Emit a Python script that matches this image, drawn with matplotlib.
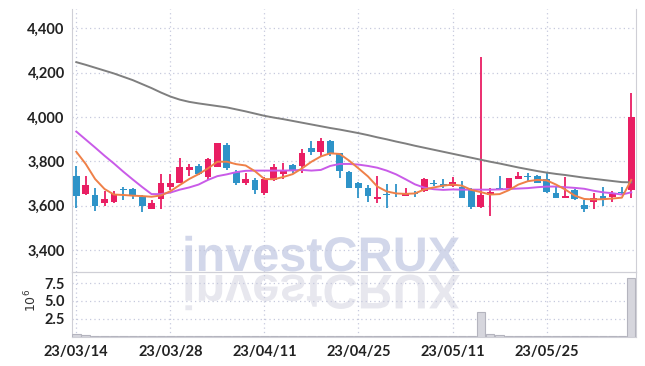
import matplotlib
matplotlib.use('Agg')
import matplotlib.pyplot as plt
from matplotlib.textpath import TextPath
from matplotlib.patches import PathPatch
from matplotlib.font_manager import FontProperties
from matplotlib.transforms import Affine2D

# OHLC (one entry per trading day)
opens  = [3734, 3653, 3648, 3613, 3618, 3676, 3675, 3641, 3586, 3629,
          3686, 3704, 3761, 3779, 3731, 3776, 3874, 3753, 3701, 3716,
          3659, 3716, 3741, 3783, 3780, 3859, 3844, 3892, 3836, 3753,
          3704, 3678, 3632, 3653, 3654, 3644, 3656, 3668, 3704, 3699,
          3689, 3686, 3674, 3595, 3647, 3680, 3678, 3720, 3733, 3734,
          3718, 3656, 3636, 3671, 3603, 3615, 3644, 3638, 3661, 3671]
highs  = [3780, 3735, 3681, 3668, 3668, 3686, 3681, 3648, 3626, 3741,
          3743, 3813, 3788, 3788, 3815, 3884, 3881, 3761, 3749, 3723,
          3728, 3786, 3791, 3786, 3854, 3892, 3904, 3896, 3836, 3758,
          3708, 3693, 3734, 3696, 3698, 3678, 3668, 3723, 3716, 3722,
          3728, 3713, 3678, 4269, 3678, 3734, 3723, 3752, 3746, 3738,
          3753, 3686, 3731, 3674, 3626, 3656, 3686, 3665, 3686, 4110]
lows   = [3590, 3648, 3576, 3598, 3610, 3626, 3628, 3573, 3583, 3583,
          3671, 3701, 3734, 3738, 3716, 3776, 3761, 3693, 3693, 3653,
          3648, 3713, 3719, 3746, 3749, 3829, 3824, 3824, 3723, 3678,
          3633, 3618, 3613, 3588, 3641, 3644, 3641, 3663, 3690, 3678,
          3686, 3633, 3583, 3588, 3553, 3675, 3678, 3718, 3713, 3702,
          3656, 3633, 3633, 3627, 3570, 3585, 3598, 3618, 3648, 3633]
closes = [3644, 3693, 3600, 3630, 3653, 3672, 3644, 3600, 3611, 3701,
          3704, 3774, 3773, 3743, 3810, 3881, 3768, 3701, 3720, 3671,
          3720, 3773, 3761, 3758, 3836, 3844, 3892, 3832, 3758, 3681,
          3678, 3644, 3641, 3648, 3651, 3659, 3653, 3719, 3696, 3690,
          3708, 3636, 3595, 3648, 3663, 3675, 3723, 3734, 3729, 3704,
          3662, 3636, 3644, 3629, 3583, 3633, 3630, 3653, 3657, 3998]

# moving averages as drawn
ma_short = [3843, 3788, 3720, 3675, 3650, 3648, 3645, 3643, 3640, 3646,
            3665, 3693, 3720, 3742, 3768, 3798, 3798, 3787, 3781, 3755,
            3720, 3719, 3729, 3742, 3768, 3798, 3822, 3836, 3833, 3803,
            3768, 3732, 3686, 3664, 3655, 3653, 3655, 3673, 3682, 3690,
            3695, 3690, 3671, 3661, 3650, 3652, 3670, 3695, 3710, 3716,
            3714, 3695, 3672, 3645, 3630, 3628, 3629, 3632, 3636, 3716]
ma_mid   = [3934, 3898, 3862, 3825, 3790, 3753, 3718, 3684, 3652, 3652,
            3659, 3672, 3682, 3695, 3716, 3733, 3741, 3751, 3757, 3758,
            3758, 3758, 3758, 3759, 3761, 3758, 3761, 3779, 3788, 3788,
            3785, 3779, 3771, 3758, 3741, 3719, 3696, 3681, 3674, 3671,
            3673, 3672, 3672, 3672, 3672, 3673, 3675, 3677, 3679, 3683,
            3686, 3686, 3683, 3680, 3676, 3667, 3660, 3656, 3650, 3660]
ma_long  = [4247, 4235, 4222, 4209, 4196, 4181, 4166, 4148, 4130, 4110,
            4092, 4078, 4068, 4061, 4055, 4049, 4043, 4034, 4025, 4015,
            4005, 3997, 3990, 3982, 3974, 3966, 3958, 3950, 3943, 3935,
            3927, 3918, 3908, 3899, 3889, 3880, 3870, 3861, 3852, 3843,
            3834, 3825, 3816, 3807, 3798, 3790, 3781, 3772, 3764, 3756,
            3749, 3743, 3738, 3732, 3726, 3721, 3716, 3711, 3706, 3705]

# volume in millions
volume = [0.40, 0.20, 0.15, 0.05, 0.05, 0.15, 0.15, 0.15, 0.05, 0.15,
          0.15, 0.15, 0.15, 0.15, 0.15, 0.15, 0.15, 0.05, 0.15, 0.15,
          0.15, 0.15, 0.05, 0.15, 0.15, 0.15, 0.15, 0.15, 0.15, 0.15,
          0.05, 0.05, 0.15, 0.15, 0.05, 0.05, 0.05, 0.05, 0.05, 0.05,
          0.05, 0.05, 0.05, 3.40, 0.35, 0.20, 0.05, 0.15, 0.15, 0.15,
          0.15, 0.05, 0.05, 0.05, 0.15, 0.05, 0.05, 0.05, 0.05, 8.20]

tick_idx = [0, 10, 20, 30, 40, 50]
tick_labels = ['23/03/14', '23/03/28', '23/04/11', '23/04/25', '23/05/11', '23/05/25']
price_ticks = [3400, 3600, 3800, 4000, 4200, 4400]
vol_ticks = [2.5, 5.0, 7.5]

UP = '#e91e63'
DOWN = '#2e93c8'
GRID = '#c6c9dd'
SPINE = '#cfcfd6'
tick_font = dict(family=['Lato', 'DejaVu Sans'], weight='bold', size=10.5)

fig = plt.figure(figsize=(6.45, 3.66), dpi=100)
fig.patch.set_facecolor('white')
ax = fig.add_axes([0.111, 0.257, 0.875, 0.718])
axv = fig.add_axes([0.111, 0.080, 0.875, 0.177], sharex=ax)

n = len(opens)
x = list(range(n))

for a in (ax, axv):
    a.set_facecolor('none')
    a.grid(True, color=GRID, linestyle=(0, (1, 2.5)), linewidth=0.9)
    a.set_axisbelow(True)
    for s in a.spines.values():
        s.set_color(SPINE)
    a.tick_params(length=0, colors='#222222')
ax.spines['top'].set_visible(False)

# candles
for i in x:
    col = UP if closes[i] >= opens[i] else DOWN
    ax.vlines(i, lows[i], highs[i], color=col, linewidth=1.3, zorder=3)
    lo = min(opens[i], closes[i])
    h = max(abs(closes[i] - opens[i]), 3)
    ax.bar(i, h, bottom=lo, width=0.72, color=col, zorder=4)

ax.plot(x, ma_long, color='#7f7f7f', linewidth=1.4, zorder=5)
ax.plot(x, ma_mid, color='#c95be8', linewidth=1.4, zorder=5)
ax.plot(x, ma_short, color='#ef8048', linewidth=1.4, zorder=6)

ax.set_ylim(3301, 4486)
ax.set_yticks(price_ticks)
ax.set_yticklabels(['{:,}'.format(v) for v in price_ticks], **tick_font)
ax.tick_params(axis='y', pad=5)
plt.setp(ax.get_xticklabels(), visible=False)

axv.bar(x, volume, width=0.9, color='#d6d6dd', edgecolor='#b4b4be', linewidth=0.8, zorder=3)
axv.set_ylim(0, 9.05)
axv.set_yticks(vol_ticks)
axv.set_yticklabels(['{:.1f}'.format(v) for v in vol_ticks], **tick_font)
axv.set_xticks(tick_idx)
axv.set_xticklabels(tick_labels, **tick_font)
axv.tick_params(axis='x', pad=6)
axv.tick_params(axis='y', pad=5)
axv.set_xlim(-0.5, n - 0.5)
fig.text(0.048, 0.18, '10$^{6}$', rotation=90, fontsize=9, color='#333333',
         ha='center', va='center')

# watermark with reflection
fp = FontProperties(family='Liberation Sans', weight='bold')
tp = TextPath((0, 0), 'investCRUX', size=35, prop=fp)
wm = PathPatch(tp, facecolor='#d2d7ea', edgecolor='none', zorder=-1,
               transform=Affine2D().scale(1 / 72).translate(1.82, 0.95) + fig.dpi_scale_trans)
fig.add_artist(wm)
rf = PathPatch(tp, facecolor='#e7e7ee', edgecolor='none', zorder=-1,
               transform=Affine2D().scale(1 / 72, -1 / 72).translate(1.82, 0.91) + fig.dpi_scale_trans)
fig.add_artist(rf)

fig.savefig('out.png', dpi=100)
